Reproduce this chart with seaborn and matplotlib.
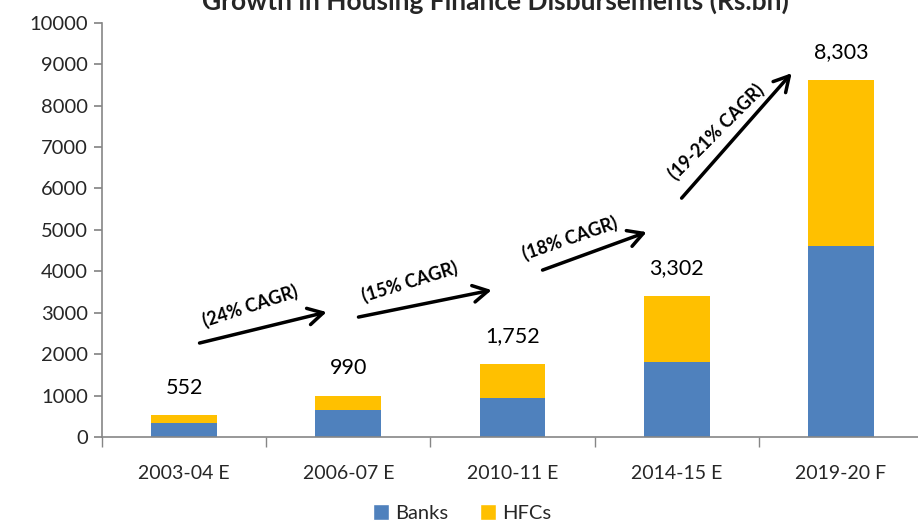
import matplotlib
matplotlib.use("Agg")
import matplotlib.pyplot as plt
import seaborn as sns
import pandas as pd
from matplotlib.patches import Patch

categories = ["2003-04 E", "2006-07 E", "2010-11 E", "2014-15 E", "2019-20 F"]
banks = [345, 650, 947, 1800, 4610]
hfcs = [178, 338, 812, 1605, 4017]
total_labels = ["552", "990", "1,752", "3,302", "8,303"]
cagr_labels = ["(24% CAGR)", "(15% CAGR)", "(18% CAGR)", "(19-21% CAGR)"]

BLUE = "#4F81BD"
GOLD = "#FFC000"
GREY = "#868686"

sns.set_theme(style="white")
plt.rcParams["font.family"] = ["Lato", "DejaVu Sans"]

df = pd.DataFrame({"cat": categories, "Banks": banks, "HFCs": hfcs})
df["Total"] = df["Banks"] + df["HFCs"]

fig = plt.figure(figsize=(9.18, 5.23), dpi=100)
W, H = 918, 523
ax = fig.add_axes([102 / W, (H - 437) / H, (923 - 102) / W, (437 - 22.7) / H])

sns.barplot(data=df, x="cat", y="Total", color=GOLD, width=0.40, ax=ax,
            saturation=1, edgecolor="none")
sns.barplot(data=df, x="cat", y="Banks", color=BLUE, width=0.40, ax=ax,
            saturation=1, edgecolor="none")
if ax.get_legend() is not None:
    ax.get_legend().remove()

ax.set_ylim(0, 10000)
ax.set_xlim(-0.5, len(categories) - 0.5)
ax.set_yticks(range(0, 10001, 1000))
ax.set_xlabel("")
ax.set_ylabel("")
ax.tick_params(axis="y", labelsize=14.5, length=6, color=GREY, direction="out", left=True, pad=4)
ax.set_xticks(range(len(categories)), categories)
ax.tick_params(axis="x", labelsize=14, length=0, pad=20)
ax.set_xticks([i - 0.5 for i in range(len(categories) + 1)], minor=True)
ax.tick_params(axis="x", which="minor", length=7, color=GREY, direction="out", bottom=True)
for s in ["top", "right"]:
    ax.spines[s].set_visible(False)
for s in ["left", "bottom"]:
    ax.spines[s].set_color(GREY)
    ax.spines[s].set_linewidth(1.2)

# value labels above bars
for i, (t, lab) in enumerate(zip(df["Total"], total_labels)):
    ax.annotate(lab, (i, t), xytext=(0, 20), textcoords="offset points",
                ha="center", va="center", fontsize=15.5, color="black")

# CAGR arrows
arrows = [((0.094, 2268), (0.868, 3016)),
          ((1.062, 2895), (1.873, 3546)),
          ((2.183, 4029), (2.817, 4946)),
          ((3.030, 5766), (3.700, 8782))]
texts = [((0.40, 3160), 18), ((1.373, 3739), 17), ((2.348, 4801), 19), ((3.243, 7358), 45)]
for (s, e), ((tx, ty), rot), lab in zip(arrows, texts, cagr_labels):
    ax.annotate("", xy=e, xytext=s,
                arrowprops=dict(arrowstyle="->,head_length=0.9,head_width=0.5",
                                lw=2.5, color="black", shrinkA=0, shrinkB=0))
    ax.text(tx, ty, lab, rotation=rot, rotation_mode="anchor", ha="center", va="center",
            fontsize=13, fontweight="bold", color="black")

# legend
handles = [Patch(facecolor=BLUE, label="Banks"), Patch(facecolor=GOLD, label="HFCs")]
fig.legend(handles=handles, loc="center", bbox_to_anchor=(462 / W, 1 - 513 / H), ncol=2,
           frameon=False, fontsize=14.5, handlelength=0.8, handleheight=0.8,
           handletextpad=0.3, columnspacing=1.6)

fig.text(495 / W, 1 - 10 / H, "Growth in Housing Finance Disbursements (Rs.bn)",
         ha="center", va="baseline", fontsize=19, fontweight="bold")

fig.savefig("out.png", dpi=100)
